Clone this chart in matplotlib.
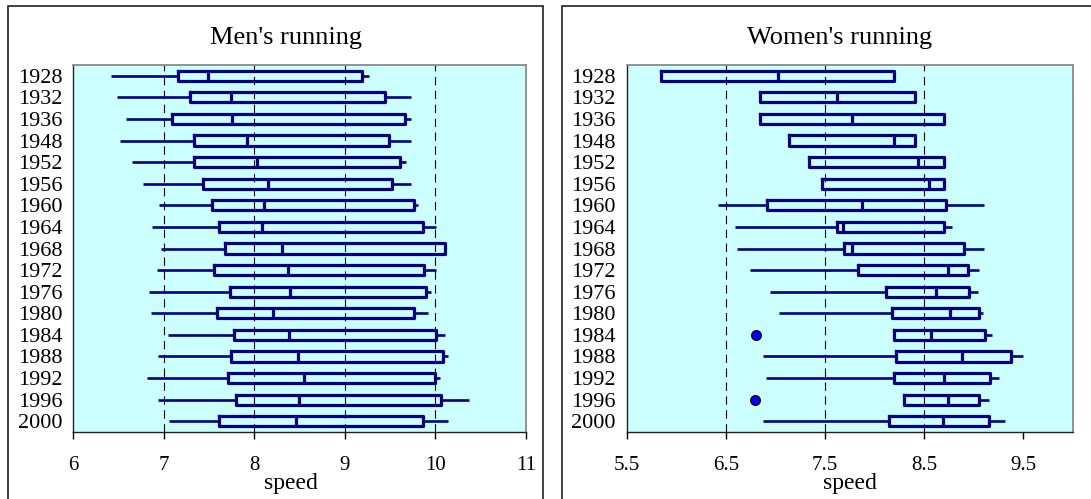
import numpy as np
import matplotlib
matplotlib.use("Agg")
import matplotlib.pyplot as plt
from matplotlib.patches import Rectangle

plt.rcParams['font.family'] = ['Liberation Serif', 'DejaVu Serif']

years = [1928, 1932, 1936, 1948, 1952, 1956, 1960, 1964, 1968,
         1972, 1976, 1980, 1984, 1988, 1992, 1996, 2000]

# men's running speeds: whisker low, q1, median, q3, whisker high
men_lo  = [6.42, 6.48, 6.58, 6.52, 6.65, 6.77, 6.95, 6.87, 6.97, 6.92, 6.84, 6.86, 7.05, 6.94, 6.81, 6.94, 7.06]
men_q1  = [7.16, 7.29, 7.09, 7.33, 7.33, 7.43, 7.53, 7.61, 7.67, 7.55, 7.73, 7.59, 7.77, 7.74, 7.71, 7.80, 7.61]
men_med = [7.49, 7.74, 7.75, 7.92, 8.03, 8.15, 8.11, 8.08, 8.31, 8.37, 8.39, 8.21, 8.38, 8.48, 8.55, 8.49, 8.46]
men_q3  = [9.19, 9.44, 9.66, 9.49, 9.61, 9.52, 9.76, 9.86, 10.10, 9.87, 9.89, 9.76, 10.01, 10.08, 10.00, 10.06, 9.86]
men_hi  = [9.27, 9.73, 9.73, 9.73, 9.68, 9.73, 9.81, 10.01, 10.10, 10.01, 9.95, 9.92, 10.11, 10.14, 10.05, 10.37, 10.14]
men_out = [[] for _ in years]

# women's running speeds
wom_lo  = [5.85, 6.84, 6.84, 7.14, 7.34, 7.47, 6.42, 6.59, 6.61, 6.74, 6.95, 7.04, 8.20, 6.88, 6.91, 8.30, 6.88]
wom_q1  = [5.85, 6.84, 6.84, 7.14, 7.34, 7.47, 6.92, 7.62, 7.69, 7.83, 8.12, 8.18, 8.20, 8.22, 8.20, 8.30, 8.15]
wom_med = [7.03, 7.62, 7.77, 8.20, 8.44, 8.55, 7.87, 7.68, 7.77, 8.74, 8.62, 8.76, 8.57, 8.88, 8.70, 8.74, 8.69]
wom_q3  = [8.20, 8.41, 8.70, 8.41, 8.70, 8.70, 8.72, 8.70, 8.90, 8.94, 8.95, 9.05, 9.12, 9.38, 9.17, 9.05, 9.16]
wom_hi  = [8.20, 8.41, 8.70, 8.41, 8.70, 8.70, 9.11, 8.78, 9.11, 9.05, 9.04, 9.10, 9.19, 9.50, 9.26, 9.16, 9.32]
wom_out = [[], [], [], [], [], [], [], [], [], [], [], [], [6.80], [], [], [6.79], []]

W, H = 1091, 499
NAVY = '#000080'
CYAN = '#ccffff'

def make_stats(lo, q1, med, q3, hi, out):
    stats = []
    for i in range(len(years)):
        stats.append(dict(whislo=lo[i], q1=q1[i], med=med[i], q3=q3[i],
                          whishi=hi[i], fliers=out[i], label=str(years[i])))
    return stats

def draw_panel(ax, stats, xlim, xticks, xlabels):
    ax.set_facecolor(CYAN)
    ax.bxp(stats, positions=np.arange(len(years)), widths=0.47,
           orientation='horizontal', showcaps=False, patch_artist=False,
           boxprops=dict(color=NAVY, linewidth=2.3),
           medianprops=dict(color=NAVY, linewidth=2.3),
           whiskerprops=dict(color=NAVY, linewidth=1.9, solid_capstyle='butt'),
           flierprops=dict(marker='o', markerfacecolor='#0000ff',
                           markeredgecolor='black', markersize=7,
                           markeredgewidth=0.9))
    ax.set_ylim(len(years) - 0.5, -0.5)
    ax.set_xlim(*xlim)
    ax.set_xticks(xticks)
    ax.set_xticklabels(xlabels)
    ax.tick_params(axis='x', direction='out', length=5, width=1,
                   labelsize=15, pad=12, color='black')
    ax.tick_params(axis='y', length=0, labelsize=16, pad=8)
    ax.grid(axis='x', color='black', linewidth=0.8, linestyle=(0, (7.5, 5)))
    gl = ax.get_xgridlines()
    gl[0].set_visible(False)
    gl[-1].set_visible(False)
    ax.set_axisbelow(True)
    for s in ['top', 'right']:
        ax.spines[s].set_color('#8a8a8a')
        ax.spines[s].set_linewidth(1.3)
    for s in ['left', 'bottom']:
        ax.spines[s].set_color('#202020')
        ax.spines[s].set_linewidth(1.0)

fig = plt.figure(figsize=(W / 100, H / 100), dpi=100)

ax1 = fig.add_axes([73.3 / W, (H - 432) / H, (526 - 73.3) / W, (432 - 65) / H])
ax2 = fig.add_axes([626.7 / W, (H - 432) / H, (1072.7 - 626.7) / W, (432 - 65) / H])

draw_panel(ax1, make_stats(men_lo, men_q1, men_med, men_q3, men_hi, men_out),
           (6, 11), [6, 7, 8, 9, 10, 11], ['6', '7', '8', '9', '10', '11'])
draw_panel(ax2, make_stats(wom_lo, wom_q1, wom_med, wom_q3, wom_hi, wom_out),
           (5.5, 10.0), [5.5, 6.5, 7.5, 8.5, 9.5], ['5.5', '6.5', '7.5', '8.5', '9.5'])

ax1.set_xlabel('speed', fontsize=17)
ax1.xaxis.set_label_coords((290.5 - 73.3) / 452.7, -0.112)
ax2.set_xlabel('speed', fontsize=17)
ax2.xaxis.set_label_coords((850 - 626.7) / 446, -0.112)

fig.text(285.5 / W, 1 - 38 / H, "Men's running", fontsize=19, ha='center', va='center')
fig.text(840 / W, 1 - 38 / H, "Women's running", fontsize=19, ha='center', va='center')

# outer frames round each chart
fig.patches.append(Rectangle((8 / W, -0.1), 535 / W, (H - 6) / H + 0.1,
                             transform=fig.transFigure, fill=False,
                             edgecolor='#202020', linewidth=1.2))
fig.patches.append(Rectangle((562 / W, -0.1), 0.6, (H - 6) / H + 0.1,
                             transform=fig.transFigure, fill=False,
                             edgecolor='#202020', linewidth=1.2))

fig.savefig('out.png', dpi=100)
